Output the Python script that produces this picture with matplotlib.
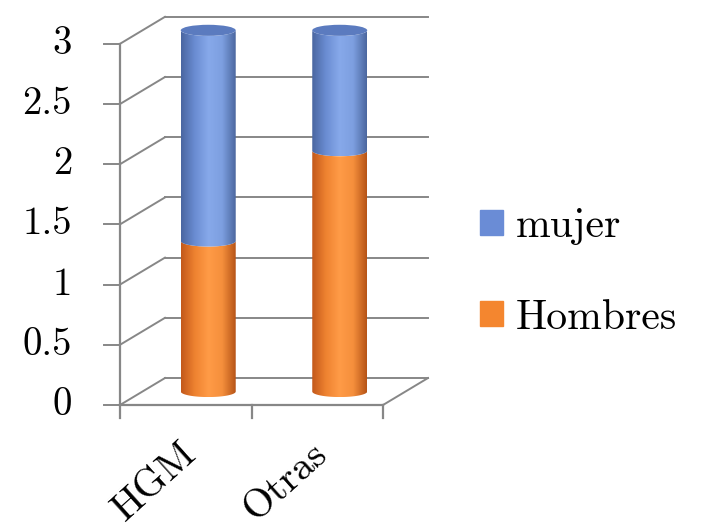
import numpy as np
import matplotlib.pyplot as plt
from matplotlib.patches import Ellipse, Polygon, Patch
from matplotlib.colors import LinearSegmentedColormap

# datos
categorias = ["HGM", "Otras"]
hombres = [1.25, 2.0]
mujer = [1.75, 1.0]
ticks_y = [0, 0.5, 1, 1.5, 2, 2.5, 3]
etiquetas_y = ["0", "0.5", "1", "1.5", "2", "2.5", "3"]

# geometria de la caja oblicua
W, H = 713, 530
X0_PX, Y0_PX = 120, 405     # origen del eje en pixeles
PX_CAT = 131.5              # pixeles por categoria
PX_VAL = 120.4              # pixeles por unidad
DX, DY = 0.342, 0.224       # desplazamiento de profundidad
RADIO = 0.209               # radio del cilindro
ELIP = 0.046                # semieje vertical de las elipses
GRIS = "#878787"
FUENTE = "cmr10"

cmap_azul = LinearSegmentedColormap.from_list(
    "azul", ["#4a66a0", "#6a8cd2", "#87a9ea", "#7d9fe0", "#4b679f"])
cmap_naranja = LinearSegmentedColormap.from_list(
    "naranja", ["#c2581b", "#ee8230", "#ff9b47", "#f58f3c", "#b65417"])

fig = plt.figure(figsize=(W / 100, H / 100), dpi=100)
ax = fig.add_axes([0, 0, 1, 1])
ax.axis("off")
n = len(categorias)

# paredes y suelo
for t in ticks_y:
    ax.plot([DX, n + DX], [t + DY, t + DY], color=GRIS, lw=1.4, zorder=1)
    ax.plot([0, DX], [t, t + DY], color=GRIS, lw=1.4, zorder=1)
    ax.plot([-0.122, 0], [t, t], color=GRIS, lw=1.4, zorder=1)
ax.plot([0, 0], [0, ticks_y[-1]], color=GRIS, lw=1.6, zorder=1)
ax.plot([0, n], [0, 0], color=GRIS, lw=1.6, zorder=1)
ax.plot([n, n + DX], [0, DY], color=GRIS, lw=1.4, zorder=1)
for i in range(n + 1):
    ax.plot([i, i], [0, -0.11], color=GRIS, lw=1.6, zorder=1)

for t, lab in zip(ticks_y, etiquetas_y):
    ax.text(-0.365, t, lab, ha="right", va="center", fontsize=28,
            fontfamily=FUENTE)

# cilindros apilados
grad = np.linspace(0, 1, 256).reshape(1, -1)
th = np.linspace(np.pi, 2 * np.pi, 60)


def cilindro(xc, y0, y1, cmap, tapa=None):
    xs = np.concatenate([xc + RADIO * np.cos(th), xc + RADIO * np.cos(th[::-1])])
    ys = np.concatenate([y0 + ELIP * np.sin(th), y1 + ELIP * np.sin(th[::-1])])
    cuerpo = Polygon(np.column_stack([xs, ys]), closed=True, facecolor="none",
                     edgecolor="none", transform=ax.transData)
    ax.add_patch(cuerpo)
    im = ax.imshow(grad, cmap=cmap, aspect="auto", zorder=3,
                   extent=[xc - RADIO, xc + RADIO, y0 - ELIP, y1 + ELIP])
    im.set_clip_path(cuerpo)
    if tapa is not None:
        ax.add_patch(Ellipse((xc, y1), 2 * RADIO, 2 * ELIP, facecolor=tapa,
                             edgecolor="none", zorder=4))


for i, (h, m) in enumerate(zip(hombres, mujer)):
    xc = i + 0.5 + DX / 2
    base = DY / 2
    cilindro(xc, base, base + h, cmap_naranja)
    cilindro(xc, base + h, base + h + m, cmap_azul, tapa="#5b7bbf")

for i, cat in enumerate(categorias):
    ax.text(i + 0.45, -0.25, cat, rotation=42, rotation_mode="anchor",
            ha="right", va="top", fontsize=29, fontfamily=FUENTE)

ax.set_xlim(-X0_PX / PX_CAT, (W - X0_PX) / PX_CAT)
ax.set_ylim((Y0_PX - H) / PX_VAL, Y0_PX / PX_VAL)

handles = [Patch(color="#6a8cd6", label="mujer"),
           Patch(color="#f4862f", label="Hombres")]
fig.legend(handles=handles, loc="center left",
           bbox_to_anchor=(480 / W, 1 - 272 / H), frameon=False,
           prop={"family": FUENTE, "size": 30}, handlelength=0.55,
           handleheight=0.55, handletextpad=0.3, labelspacing=1.3,
           borderpad=0, borderaxespad=0)

fig.savefig("out.png", dpi=100)
